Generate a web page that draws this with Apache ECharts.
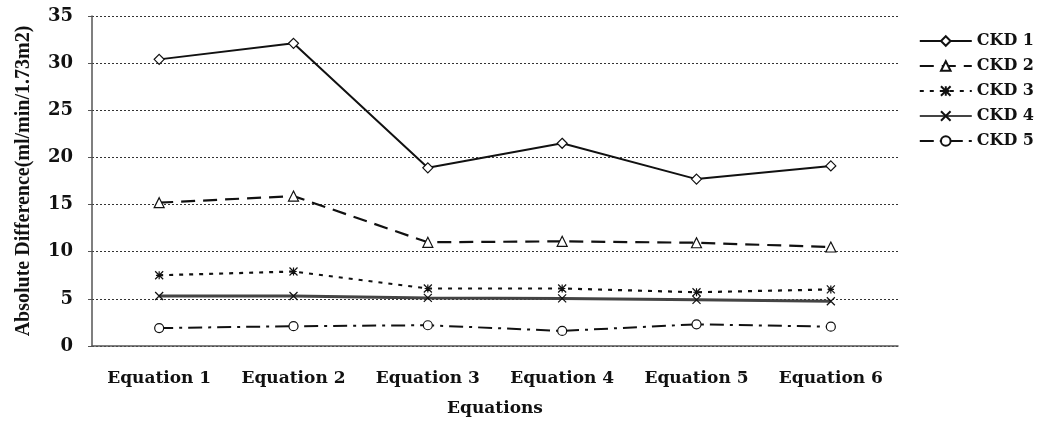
<!DOCTYPE html>
<html>
<head>
<meta charset="utf-8">
<script src="https://cdn.jsdelivr.net/npm/echarts@6/dist/echarts.min.js"></script>
<style>html,body{margin:0;padding:0;background:#fff}#c{width:1039px;height:429px}</style>
</head>
<body>
<div id="c"></div>
<script>
var categories = ['Equation 1','Equation 2','Equation 3','Equation 4','Equation 5','Equation 6'];
var seriesNames = ['CKD 1','CKD 2','CKD 3','CKD 4','CKD 5'];
var ckd1 = [30.4, 32.1, 18.9, 21.5, 17.7, 19.1];
var ckd2 = [15.2, 15.9, 11.0, 11.1, 10.95, 10.5];
var ckd3 = [7.5, 7.9, 6.1, 6.1, 5.7, 6.0];
var ckd4 = [5.3, 5.3, 5.1, 5.05, 4.9, 4.75];
var ckd5 = [1.9, 2.1, 2.2, 1.6, 2.3, 2.05];
var yTicks = [0, 5, 10, 15, 20, 25, 30, 35];

var wide = 'DejaVu Serif';
var narrow = 'Liberation Serif';
var ink = '#111';
var xPath = 'path://M0,0L10,10M10,0L0,10';
var starPath = 'path://M0,0L10,10M10,0L0,10M5,0L5,10M1,5L9,5';

function mk(name, data, lineType, width, symbol, size, color) {
  return {
    name: name, type: 'line', data: data,
    symbol: symbol, symbolSize: size,
    lineStyle: {color: color || ink, width: width, type: lineType},
    itemStyle: {color: '#fff', borderColor: ink, borderWidth: 1.2},
    emphasis: {disabled: true},
    animation: false
  };
}

var chart = echarts.init(document.getElementById('c'));
chart.setOption({
  backgroundColor: '#fff',
  grid: {left: 92, right: 141, top: 16, bottom: 83},
  legend: {
    orient: 'vertical', right: 0, top: 28,
    itemWidth: 52, itemHeight: 12, itemGap: 9,
    textStyle: {fontFamily: wide, fontWeight: 'bold', fontSize: 16, color: ink},
    data: seriesNames
  },
  xAxis: {
    type: 'category', data: categories, boundaryGap: true,
    name: 'Equations', nameLocation: 'middle', nameGap: 54,
    nameTextStyle: {fontFamily: wide, fontWeight: 'bold', fontSize: 17, color: ink},
    axisLine: {lineStyle: {color: '#555', width: 1.5}},
    axisTick: {inside: true, length: 5, lineStyle: {color: '#555'}},
    axisLabel: {interval: 0, fontFamily: wide, fontWeight: 'bold', fontSize: 17, color: ink, margin: 24}
  },
  yAxis: {
    type: 'value', min: yTicks[0], max: yTicks[yTicks.length-1], interval: 5,
    name: 'Absolute Difference(ml/min/1.73m2)', nameLocation: 'middle', nameGap: 58,
    nameTextStyle: {fontFamily: narrow, fontWeight: 'bold', fontSize: 20, color: ink},
    axisLine: {show: true, lineStyle: {color: '#555', width: 1.5}},
    axisTick: {show: true, length: 4, lineStyle: {color: '#555'}},
    axisLabel: {fontFamily: wide, fontWeight: 'bold', fontSize: 18, color: ink, margin: 19},
    splitLine: {lineStyle: {color: '#333', type: [2, 2], width: 1}}
  },
  series: [
    mk(seriesNames[0], ckd1, 'solid', 2, 'diamond', 10),
    mk(seriesNames[1], ckd2, [14, 8], 2.2, 'triangle', 10),
    mk(seriesNames[2], ckd3, [4, 6], 2.2, starPath, 8),
    mk(seriesNames[3], ckd4, 'solid', 3, xPath, 8, '#444'),
    mk(seriesNames[4], ckd5, [14, 6, 3, 6], 2, 'circle', 9)
  ]
});
</script>
</body>
</html>
